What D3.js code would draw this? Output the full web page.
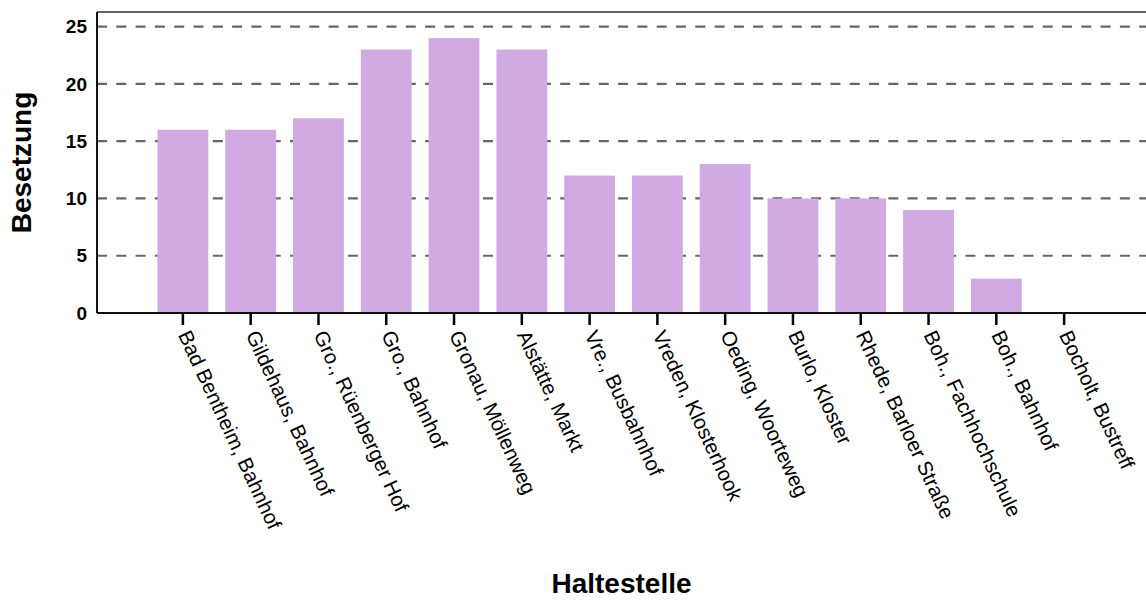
<!DOCTYPE html>
<html>
<head>
<meta charset="utf-8">
<script src="https://cdn.jsdelivr.net/npm/d3@7"></script>
<style>
    body { margin: 0; background: #fff; }
    text { font-family: "Liberation Sans", Arial, sans-serif; }
</style>
</head>
<body>
<svg id="chart" width="1146" height="601"></svg>
<script>
const stops = [
    "Bad Bentheim, Bahnhof", "Gildehaus, Bahnhof", "Gro., Rüenberger Hof", "Gro., Bahnhof",
    "Gronau, Möllenweg", "Alstätte, Markt", "Vre., Busbahnhof", "Vreden, Klosterhook",
    "Oeding, Woorteweg", "Burlo, Kloster", "Rhede, Barloer Straße", "Boh., Fachhochschule",
    "Boh., Bahnhof", "Bocholt, Bustreff"
];
const occupancy = [16, 16, 17, 23, 24, 23, 12, 12, 13, 10, 10, 9, 3, 0];
const yTicks = [0, 5, 10, 15, 20, 25];

const svg = d3.select("#chart");

// plot area
const plotLeft = 97, plotRight = 1146, plotTop = 12, plotBottom = 313;

const x = d3.scaleBand()
    .domain(stops)
    .range([149, 1098])
    .paddingInner(0.25)
    .paddingOuter(0.125);

const y = d3.scaleLinear()
    .domain([0, 26.28])
    .range([plotBottom, plotTop]);

// dashed grid lines behind the bars
svg.append("g")
    .selectAll("line")
    .data(yTicks)
    .enter()
    .append("line")
    .attr("x1", plotLeft)
    .attr("x2", plotRight)
    .attr("y1", d => y(d))
    .attr("y2", d => y(d))
    .attr("stroke", "#666")
    .attr("stroke-width", 2.2)
    .attr("stroke-dasharray", "10,9.3");

// bars
svg.append("g")
    .selectAll("rect")
    .data(occupancy)
    .enter()
    .append("rect")
    .attr("x", (d, i) => x(stops[i]))
    .attr("y", d => y(d))
    .attr("width", x.bandwidth())
    .attr("height", d => y(0) - y(d))
    .attr("fill", "#d1aae4");

// top frame line
svg.append("line")
    .attr("x1", plotLeft).attr("x2", plotRight)
    .attr("y1", plotTop).attr("y2", plotTop)
    .attr("stroke", "#333").attr("stroke-width", 1.5);

// y axis
const yAxis = d3.axisLeft(y)
    .tickValues(yTicks)
    .tickSize(0)
    .tickPadding(10);
const gy = svg.append("g")
    .attr("transform", `translate(${plotLeft},0)`)
    .call(yAxis);
gy.select(".domain")
    .attr("d", `M0,${plotTop}V${plotBottom}`)
    .attr("stroke", "#111")
    .attr("stroke-width", 2);
gy.selectAll("text")
    .style("font-size", "19px")
    .style("font-weight", "bold")
    .attr("fill", "#000");

// x axis
const xAxis = d3.axisBottom(x)
    .tickSize(12)
    .tickPadding(4);
const gx = svg.append("g")
    .attr("transform", `translate(0,${plotBottom})`)
    .call(xAxis);
gx.select(".domain")
    .attr("d", `M${plotLeft},0H${plotRight}`)
    .attr("stroke", "#111")
    .attr("stroke-width", 2);
gx.selectAll(".tick line")
    .attr("stroke", "#000")
    .attr("stroke-width", 2.5);
gx.selectAll("text")
    .attr("text-anchor", "start")
    .attr("dy", "0.35em")
    .attr("transform", "translate(0,16) rotate(65)")
    .attr("x", 3)
    .attr("y", 0)
    .style("font-size", "20.5px")
    .attr("fill", "#000");

// axis titles
svg.append("text")
    .attr("x", (plotLeft + plotRight) / 2)
    .attr("y", 593)
    .attr("text-anchor", "middle")
    .style("font-size", "28px")
    .style("font-weight", "bold")
    .text("Haltestelle");

svg.append("text")
    .attr("transform", `translate(31,${(plotTop + plotBottom) / 2}) rotate(-90)`)
    .attr("text-anchor", "middle")
    .style("font-size", "28px")
    .style("font-weight", "bold")
    .text("Besetzung");
</script>
</body>
</html>
